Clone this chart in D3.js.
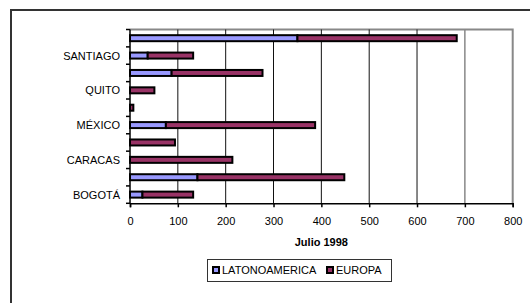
<!DOCTYPE html>
<html>
<head>
<meta charset="utf-8">
<script src="https://cdn.jsdelivr.net/npm/d3@7"></script>
<style>
  body { margin: 0; background: #fff; }
  svg { display: block; font-family: "Liberation Sans", Arial, sans-serif; }
</style>
</head>
<body>
<div id="chart"></div>
<script>
// categories bottom to top, only every other label is shown
const tickLabels = ["BOGOTÁ", "", "CARACAS", "", "MÉXICO", "", "QUITO", "", "SANTIAGO", ""];
const latam = [26, 141, 0, 0, 75, 0, 0, 87, 37, 350];
const europa = [106, 307, 214, 94, 312, 7, 51, 190, 95, 333];
const xTicks = [0, 100, 200, 300, 400, 500, 600, 700, 800];
const seriesNames = ["LATONOAMERICA", "EUROPA"];
const colors = ["#9999ff", "#993366"];

const width = 530, height = 303;
const svg = d3.select("#chart").append("svg")
    .attr("width", width)
    .attr("height", height);

// outer chart frame (runs off the right and bottom edge)
svg.append("rect")
    .attr("x", 11).attr("y", 10)
    .attr("width", 600).attr("height", 400)
    .attr("fill", "none")
    .attr("stroke", "#333")
    .attr("stroke-width", 2);

const plot = { left: 130, top: 29.5, right: 512.7, bottom: 203.3 };

const x = d3.scaleLinear().domain([0, 800]).range([plot.left, plot.right]);
const y = d3.scaleBand()
    .domain(d3.range(tickLabels.length))
    .range([plot.bottom, plot.top]);

// plot frame (top + right)
svg.append("path")
    .attr("d", `M${plot.left},${plot.top}H${plot.right}V${plot.bottom}`)
    .attr("fill", "none")
    .attr("stroke", "#888")
    .attr("stroke-width", 2);

// vertical gridlines
svg.append("g").selectAll("line")
    .data(xTicks.filter(t => t > 0 && t < 800))
    .enter().append("line")
    .attr("x1", d => x(d)).attr("x2", d => x(d))
    .attr("y1", plot.top).attr("y2", plot.bottom)
    .attr("stroke", d => d === 700 ? "#888" : "#111")
    .attr("stroke-width", d => d === 700 ? 1.5 : 1);

// stacked bars
const stacked = latam.map((v, i) => [
    { s: 0, x0: 0, x1: v },
    { s: 1, x0: v, x1: v + europa[i] }
]);
const barH = 6;
stacked.forEach((segs, i) => {
    const cy = y(i) + y.bandwidth() / 2;
    svg.append("g").selectAll("rect")
        .data(segs.filter(d => d.x1 > d.x0))
        .enter().append("rect")
        .attr("x", d => x(d.x0))
        .attr("y", cy - barH / 2)
        .attr("width", d => x(d.x1) - x(d.x0))
        .attr("height", barH)
        .attr("fill", d => colors[d.s])
        .attr("stroke", "#000")
        .attr("stroke-width", 2);
});

// y axis
const yAxis = svg.append("g")
    .attr("transform", `translate(${plot.left},0)`);
yAxis.append("line")
    .attr("x1", 0).attr("x2", 0)
    .attr("y1", plot.top).attr("y2", plot.bottom)
    .attr("stroke", "#000").attr("stroke-width", 1.5);
yAxis.selectAll(".tk")
    .data(d3.range(tickLabels.length + 1))
    .enter().append("line")
    .attr("x1", -4).attr("x2", 0)
    .attr("y1", d => plot.bottom - d * y.step())
    .attr("y2", d => plot.bottom - d * y.step())
    .attr("stroke", "#000").attr("stroke-width", 1.5);
yAxis.selectAll("text")
    .data(tickLabels)
    .enter().append("text")
    .attr("x", -10)
    .attr("y", (d, i) => y(i) + y.bandwidth() / 2)
    .attr("dy", "0.36em")
    .attr("text-anchor", "end")
    .attr("font-size", 11)
    .attr("fill", "#000")
    .text(d => d);

// x axis
const xAxis = svg.append("g")
    .attr("transform", `translate(0,${plot.bottom})`)
    .call(d3.axisBottom(x).tickValues(xTicks).tickSize(4).tickPadding(10));
xAxis.select(".domain").attr("stroke", "#000").attr("stroke-width", 1.5);
xAxis.selectAll(".tick line").attr("stroke", "#000").attr("stroke-width", 1.5);
xAxis.selectAll(".tick text")
    .attr("font-size", 11)
    .attr("font-family", "Liberation Sans, Arial, sans-serif")
    .attr("fill", "#000");

svg.append("text")
    .attr("x", (plot.left + plot.right) / 2)
    .attr("y", 246)
    .attr("text-anchor", "middle")
    .attr("font-size", 11)
    .attr("font-weight", "bold")
    .text("Julio 1998");

// legend
const legend = svg.append("g");
legend.append("rect")
    .attr("x", 207.5).attr("y", 259.5)
    .attr("width", 184).attr("height", 22)
    .attr("fill", "#fff")
    .attr("stroke", "#333")
    .attr("stroke-width", 1);
const legX = [212, 326];
seriesNames.forEach((name, i) => {
    legend.append("rect")
        .attr("x", legX[i] + 1).attr("y", 267)
        .attr("width", 6).attr("height", 6)
        .attr("fill", colors[i])
        .attr("stroke", "#000")
        .attr("stroke-width", 2);
    legend.append("text")
        .attr("x", legX[i] + 10)
        .attr("y", 274)
        .attr("font-size", 11)
        .text(name);
});
</script>
</body>
</html>
